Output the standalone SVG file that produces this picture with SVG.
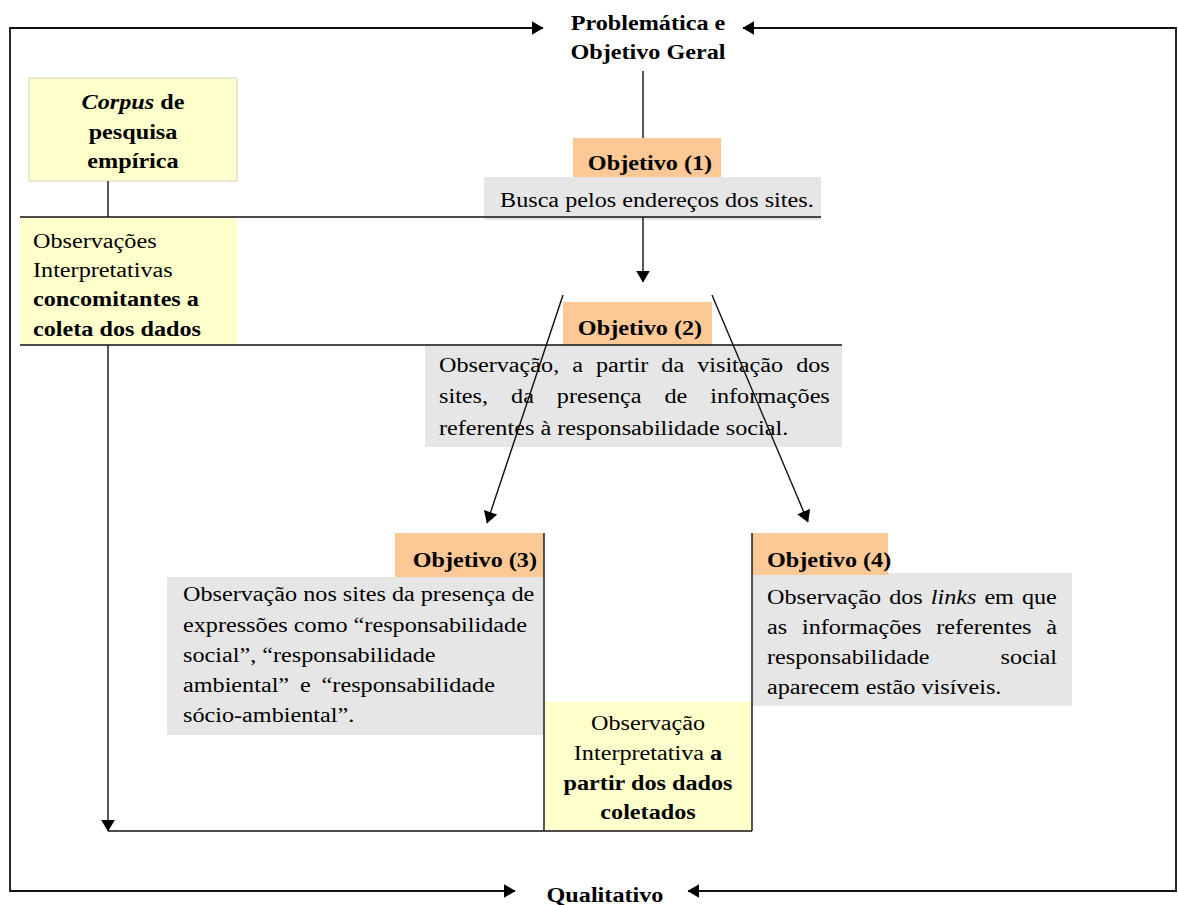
<svg xmlns="http://www.w3.org/2000/svg" width="1178" height="905" viewBox="0 0 1178 905">
<defs>
<style>
.t{font-family:"Liberation Serif","Times New Roman",serif;font-size:20px;fill:#000}
.b{font-weight:bold}
.i{font-style:italic}
.m{text-anchor:middle}
.e{text-anchor:end}
.ln{stroke:#111;stroke-width:1.4;fill:none}
.fr{stroke:#111;stroke-width:1.8;fill:none}
.yel{fill:#ffffcc}
.org{fill:#fbc896}
.gry{fill:#e6e6e6}
</style>
<marker id="ah" markerUnits="userSpaceOnUse" markerWidth="12" markerHeight="14" viewBox="0 0 11 13" refX="10.5" refY="6.5" orient="auto">
<path d="M0,0 L11,6.5 L0,13 z" fill="#000"/>
</marker>
</defs>
<rect width="1178" height="905" fill="#fff"/>

<g id="title">
<text class="t b m" transform="translate(648,30) scale(1.21,1)">Problemática e</text>
<text class="t b m" transform="translate(648,59) scale(1.21,1)">Objetivo Geral</text>
</g>

<g id="corpus">
<rect class="yel" x="29" y="78" width="208" height="103" stroke="#d4d4c0" stroke-width="1"/>
<text class="t b m" transform="translate(133,109) scale(1.21,1)"><tspan class="i">Corpus</tspan> de</text>
<text class="t b m" transform="translate(133,139) scale(1.21,1)">pesquisa</text>
<text class="t b m" transform="translate(133,168) scale(1.21,1)">empírica</text>
</g>

<g id="observacoes">
<rect class="yel" x="20" y="218" width="217" height="127"/>
<text class="t" transform="translate(33,248) scale(1.21,1)">Observações</text>
<text class="t" transform="translate(33,277) scale(1.21,1)">Interpretativas</text>
<text class="t b" transform="translate(33,306) scale(1.21,1)">concomitantes a</text>
<text class="t b" transform="translate(33,336) scale(1.21,1)">coleta dos dados</text>
</g>

<g id="obj1">
<rect class="org" x="573" y="138" width="148" height="39"/>
<rect class="gry" x="484" y="177" width="337" height="43"/>
<text class="t b m" transform="translate(650,170) scale(1.21,1)">Objetivo (1)</text>
<text class="t" transform="translate(500,207) scale(1.21,1)">Busca pelos endereços dos sites.</text>
</g>

<g id="obj2">
<rect class="org" x="563" y="302" width="149" height="43"/>
<rect class="gry" x="425" y="345" width="417" height="102"/>
<text class="t b m" transform="translate(640,335) scale(1.21,1)">Objetivo (2)</text>
<text class="t" transform="translate(439,372) scale(1.21,1)" word-spacing="5.75">Observação, a partir da visitação dos</text>
<text class="t" transform="translate(439,403) scale(1.21,1)" word-spacing="14">sites, da presença de informações</text>
<text class="t" transform="translate(439,435) scale(1.21,1)">referentes à responsabilidade social.</text>
</g>

<g id="obj3">
<rect class="org" x="395" y="533" width="149" height="44"/>
<rect class="gry" x="167" y="577" width="377" height="158"/>
<text class="t b e" transform="translate(537,567) scale(1.21,1)">Objetivo (3)</text>
<text class="t" transform="translate(183,601) scale(1.21,1)">Observação nos sites da presença de</text>
<text class="t" transform="translate(183,632) scale(1.21,1)">expressões como “responsabilidade</text>
<text class="t" transform="translate(183,662) scale(1.21,1)">social”, “responsabilidade</text>
<text class="t" transform="translate(183,692) scale(1.21,1)" word-spacing="4">ambiental” e “responsabilidade</text>
<text class="t" transform="translate(183,722) scale(1.21,1)">sócio-ambiental”.</text>
</g>

<g id="obj4">
<rect class="gry" x="752" y="573" width="320" height="133"/>
<rect class="org" x="752" y="533" width="136" height="42"/>
<text class="t b" transform="translate(767,567) scale(1.21,1)">Objetivo (4)</text>
<text class="t" transform="translate(767,604) scale(1.21,1)" word-spacing="1.6">Observação dos <tspan class="i">links</tspan> em que</text>
<text class="t" transform="translate(767,634) scale(1.21,1)" word-spacing="7.2">as informações referentes à</text>
<text class="t" transform="translate(767,664) scale(1.21,1)">responsabilidade</text>
<text class="t e" transform="translate(1057,664) scale(1.21,1)">social</text>
<text class="t" transform="translate(767,694) scale(1.21,1)">aparecem estão visíveis.</text>
</g>

<g id="interpretativa">
<rect class="yel" x="545" y="702" width="207" height="129"/>
<text class="t m" transform="translate(648,730) scale(1.21,1)">Observação</text>
<text class="t m" transform="translate(648,760) scale(1.21,1)">Interpretativa <tspan class="b">a</tspan></text>
<text class="t b m" transform="translate(648,790) scale(1.21,1)">partir dos dados</text>
<text class="t b m" transform="translate(648,819) scale(1.21,1)">coletados</text>
</g>

<g id="qualitativo">
<text class="t b m" transform="translate(605,902) scale(1.21,1)">Qualitativo</text>
</g>

<g id="connectors">
<line class="fr" x1="10" y1="28" x2="543" y2="28" marker-end="url(#ah)"/>
<line class="fr" x1="1176" y1="28" x2="743" y2="28" marker-end="url(#ah)"/>
<line class="fr" x1="10" y1="27" x2="10" y2="892"/>
<line class="fr" x1="1176" y1="27" x2="1176" y2="892"/>
<line class="fr" x1="10" y1="891" x2="515" y2="891" marker-end="url(#ah)"/>
<line class="fr" x1="1176" y1="891" x2="688" y2="891" marker-end="url(#ah)"/>
<line class="ln" x1="643" y1="71" x2="643" y2="138"/>
<line class="ln" x1="20" y1="217" x2="821" y2="217"/>
<line class="ln" x1="643" y1="217" x2="643" y2="282" marker-end="url(#ah)"/>
<line class="ln" x1="20" y1="345" x2="842" y2="345"/>
<line class="ln" x1="563" y1="295" x2="487" y2="523" marker-end="url(#ah)"/>
<line class="ln" x1="712" y1="295" x2="808" y2="522" marker-end="url(#ah)"/>
<line class="ln" x1="108" y1="181" x2="108" y2="217"/>
<line class="ln" x1="108" y1="345" x2="108" y2="831" marker-end="url(#ah)"/>
<line class="ln" x1="108" y1="831" x2="752" y2="831"/>
<line class="ln" x1="544" y1="533" x2="544" y2="831"/>
<line class="ln" x1="752" y1="533" x2="752" y2="831"/>
</g>
</svg>
